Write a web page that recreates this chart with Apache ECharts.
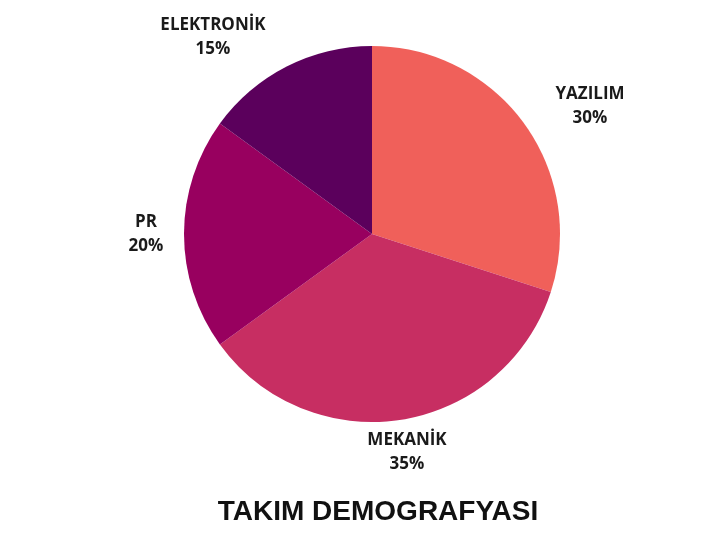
<!DOCTYPE html>
<html><head><meta charset="utf-8">
<script src="https://cdn.jsdelivr.net/npm/echarts@6/dist/echarts.min.js"></script>
<style>html,body{margin:0;padding:0;background:#fff}#c{width:719px;height:554px}</style>
</head><body><div id="c"></div>
<script>
const categories = ['YAZILIM', 'MEKANİK', 'PR', 'ELEKTRONİK'];
const values = [30, 35, 20, 15];
const colors = ['#F0605A', '#C72E62', '#98005F', '#5B005C'];
const titleText = 'TAKIM DEMOGRAFYASI';
// label centre positions (layout only)
const labelPos = [[590, 106], [407, 452], [146, 234], [213, 37]];

const cx = 372, cy = 234, R = 188;

const chart = echarts.init(document.getElementById('c'));
chart.setOption({
  backgroundColor: '#fff',
  animation: false,
  title: {
    text: titleText, left: 373, top: 493, textAlign: 'center',
    textStyle: { fontFamily: 'Liberation Sans', fontWeight: 'bold', fontSize: 28, color: '#111' }
  },
  series: [{
    type: 'pie',
    center: [cx, cy],
    radius: R,
    startAngle: 90,
    clockwise: true,
    data: categories.map((c, i) => ({ name: c, value: values[i], itemStyle: { color: colors[i] } })),
    label: {
      show: true, position: 'outside',
      formatter: p => p.name + '\n' + p.value + '%',
      fontFamily: 'Open Sans', fontWeight: 'bold', fontSize: 17, lineHeight: 24,
      color: '#1a1a1a', align: 'center'
    },
    labelLine: { show: false, length: 0, length2: 0 },
    labelLayout: p => {
      const q = labelPos[p.dataIndex];
      return { x: q[0], y: q[1], align: 'center', verticalAlign: 'middle' };
    }
  }]
});
</script></body></html>
